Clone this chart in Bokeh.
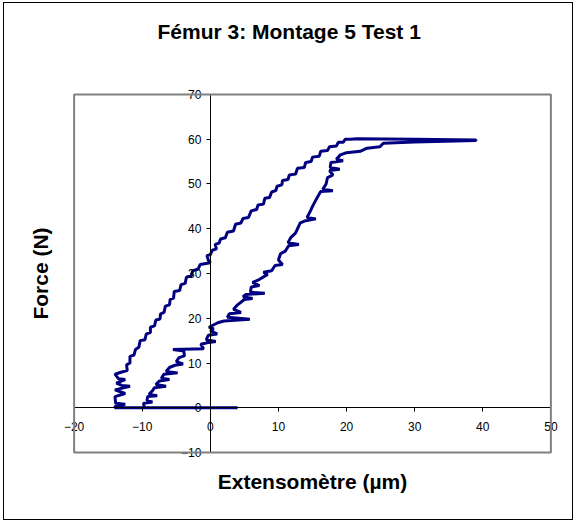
from bokeh.plotting import figure
from bokeh.models import Range1d, LinearAxis, FixedTicker, BoxAnnotation, Title
from bokeh.embed import file_html
from bokeh.resources import INLINE

title_text = "Fémur 3: Montage 5 Test 1"
x_label = "Extensomètre (µm)"
y_label = "Force (N)"

x_ticks = [-20, -10, 0, 10, 20, 30, 40, 50]
y_ticks = [-10, 0, 10, 20, 30, 40, 50, 60, 70]
x_bounds = [-20, 50]
y_bounds = [-10, 70]

# loading branch (lower-right)
load_x = [-9.7, -9.8, -8.5, -9.3, -9.2, -7.8, -9.0, -8.5, -8.2, -6.5, -8.0, -7.5, -6.0, -7.2,
          -6.8, -4.8, -6.5, -6.0, -5.2, -4.0, -5.0, -4.6, -3.8, -3.9, -5.5, -1.0, -1.4, -0.5,
          0.8, -0.6, -0.3, 1.0, 0.0, 0.5, -0.2, 1.1, 2.0, 5.8, 2.5, 2.8, 4.5, 3.4, 4.0, 5.0,
          6.2, 4.8, 5.2, 8.0, 5.9, 6.0, 7.2, 6.2, 7.0, 8.4, 7.8, 9.0, 9.5, 10.6, 10.0, 10.3,
          11.0, 11.5, 13.0, 11.4, 11.8, 12.5, 13.2, 14.0, 15.5, 14.2, 14.7, 15.0, 15.7, 16.2,
          18.0, 16.5, 17.0, 17.2, 18.0, 17.5, 19.0, 17.6, 17.7, 19.5, 18.5, 19.1, 20.0, 22.0,
          23.0, 24.9, 25.4, 30.0, 39.0]
load_y = [0.0, 1.0, 1.3, 1.6, 2.5, 2.7, 3.0, 3.8, 4.5, 4.8, 5.2, 6.0, 6.3, 6.6,
          7.5, 7.8, 8.1, 9.0, 9.5, 9.8, 10.3, 11.2, 11.6, 12.7, 13.0, 13.2, 14.2, 14.5,
          14.8, 15.2, 16.2, 16.5, 17.2, 17.6, 18.0, 19.0, 19.4, 19.8, 20.2, 21.0, 21.3, 22.0, 23.0, 24.2,
          24.4, 24.8, 25.3, 25.6, 25.8, 27.0, 27.3, 28.0, 28.5, 29.8, 30.3, 30.6, 31.8, 32.0, 33.0, 34.4,
          35.0, 36.2, 36.5, 36.9, 38.0, 39.0, 41.3, 41.8, 42.2, 42.5, 44.0, 45.0, 47.0, 48.3,
          48.5, 48.8, 50.0, 51.4, 52.0, 53.0, 53.3, 53.7, 54.8, 55.2, 55.5, 56.5, 57.0, 57.3,
          58.0, 58.3, 59.1, 59.4, 59.7]

# unloading branch (upper-left) and return along zero force
unload_x = [39.0, 30.0, 21.5, 20.6, 19.8, 19.5, 18.8, 18.5, 17.5, 17.2, 16.2, 16.0, 15.0,
            14.8, 14.0, 13.8, 12.8, 12.5, 11.6, 11.4, 10.6, 10.5, 9.8, 9.6, 9.0, 8.7, 8.0,
            7.8, 7.0, 6.8, 6.0, 5.6, 4.8, 4.5, 3.7, 3.4, 2.5, 2.2, 1.5, 1.3, 0.7, 0.9, 0.3,
            0.0, -0.5, -0.3, 0.0, -1.5, -1.8, -2.6, -2.8, -3.5, -3.7, -4.3, -4.5, -5.3,
            -5.4, -5.9, -6.0, -6.6, -6.8, -7.3, -7.4, -8.0, -8.2, -8.8, -8.8, -9.4, -9.6,
            -10.3, -10.5, -11.0, -11.2, -11.8, -11.8, -12.3, -12.2, -13.0, -14.0, -13.5,
            -12.5, -13.8, -13.0, -11.8, -14.0, -12.5, -14.0, -13.9, -12.5, -14.0, -14.0,
            -10.0, 4.0]
unload_y = [59.8, 60.0, 60.1, 60.0, 60.0, 59.3, 59.3, 58.5, 58.3, 57.5, 57.3, 56.2, 56.0,
            55.0, 54.8, 53.7, 53.5, 52.2, 52.0, 51.0, 50.8, 49.8, 49.5, 48.5, 48.2, 47.0, 46.8,
            45.5, 45.3, 44.3, 44.0, 42.5, 42.3, 41.3, 41.0, 39.5, 39.2, 38.0, 37.7, 36.8, 36.5, 35.5, 35.2,
            34.2, 34.0, 33.0, 32.4, 32.0, 31.0, 30.6, 29.5, 29.2, 27.8, 27.5, 26.2, 26.0,
            24.5, 24.2, 23.0, 22.7, 21.3, 21.0, 19.8, 19.6, 18.3, 18.0, 16.8, 16.5, 15.2,
            15.0, 13.5, 13.0, 11.8, 11.5, 10.0, 9.6, 8.3, 8.0, 7.5, 6.5,
            6.3, 5.5, 5.0, 4.8, 4.0, 3.2, 2.5, 1.0, 0.8, 0.3, 0.0,
            0.0, 0.0]

FONT = "Liberation Sans"

p = figure(width=570, height=518, output_backend="svg", toolbar_location=None, title=None,
           x_range=Range1d(-22, 52), y_range=Range1d(-12, 72),
           min_border_left=56, min_border_right=10, min_border_top=82, min_border_bottom=60,
           background_fill_color="white", border_fill_color="white")
p.styles = {"border": "1px solid black", "margin-left": "3px", "margin-top": "2px"}
p.outline_line_color = None
p.grid.visible = False

# spacer between frame and title, then the title itself (stacked outward)
p.add_layout(Title(text=" ", text_font_size="1px", standoff=26), "above")
p.add_layout(Title(text=title_text, text_font=FONT, text_font_size="21px", text_font_style="bold",
                   text_color="black", align="left", offset=97, standoff=27), "above")

# plot area box
p.add_layout(BoxAnnotation(left=x_bounds[0], right=x_bounds[1], bottom=y_bounds[0], top=y_bounds[1],
                           fill_alpha=0, line_color="#808080", line_alpha=1.0, line_width=2))

# label-only axes at the frame edges
for ax in p.xaxis + p.yaxis:
    ax.ticker = FixedTicker(ticks=[])
    ax.axis_line_color = None
    ax.major_tick_line_color = None
    ax.minor_tick_line_color = None
    ax.axis_label_text_font = FONT
    ax.axis_label_text_font_size = "21px"
    ax.axis_label_text_font_style = "bold"
    ax.axis_label_text_color = "black"
p.xaxis[0].axis_label = x_label
p.xaxis[0].axis_label_standoff = 8
p.yaxis[0].axis_label = y_label
p.yaxis[0].axis_label_standoff = 9

xa = LinearAxis(fixed_location=0, ticker=FixedTicker(ticks=x_ticks), bounds=tuple(x_bounds))
ya = LinearAxis(fixed_location=0, ticker=FixedTicker(ticks=y_ticks), bounds=tuple(y_bounds))
for ax in (xa, ya):
    ax.axis_line_color = "black"
    ax.axis_line_width = 1
    ax.major_tick_line_color = "black"
    ax.major_tick_in = 0
    ax.major_tick_out = 4
    ax.minor_tick_line_color = None
    ax.major_label_text_font = FONT
    ax.major_label_text_font_size = "12px"
    ax.major_label_text_color = "black"
xa.major_label_standoff = 10
ya.major_label_standoff = 5
p.add_layout(xa, "below")
p.add_layout(ya, "left")

p.line(load_x + unload_x, load_y + unload_y, line_color="#000080", line_width=3)

open("out.html", "w").write(file_html(p, INLINE))
